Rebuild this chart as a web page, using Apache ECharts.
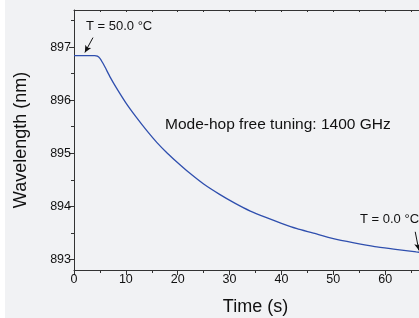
<!DOCTYPE html>
<html>
<head>
<meta charset="utf-8">
<script src="https://cdn.jsdelivr.net/npm/echarts@6/dist/echarts.min.js"></script>
<style>
  html, body { margin: 0; padding: 0; background: #f1f2f4; }
  #chart { width: 419px; height: 318px; }
</style>
</head>
<body>
<div id="chart"></div>
<script>
// time axis (s) and measured wavelength (nm)
const timeS = [0, 1, 2, 3, 4, 4.5, 5, 5.5, 6, 7, 8, 10, 12, 14, 16, 18, 20, 22, 25, 28, 31, 34, 37, 40, 43, 46, 50, 54, 58, 62, 66, 70];
const wavelengthNm = [896.84, 896.84, 896.84, 896.84, 896.84, 896.83, 896.79, 896.71, 896.62, 896.43, 896.26, 895.95, 895.68, 895.43, 895.20, 895.00, 894.82, 894.65, 894.42, 894.23, 894.06, 893.91, 893.79, 893.68, 893.58, 893.50, 893.39, 893.31, 893.24, 893.19, 893.14, 893.10];

const yMajorTicks = [893, 894, 895, 896, 897];
const yMinorTicks = [893.5, 894.5, 895.5, 896.5, 897.5];

// annotation arrows, in data coords: [tail, head]
const arrowHot = [[3.66, 897.18], [2.1, 896.9]];
const arrowCold = [[65.8, 893.52], [66.5, 893.17]];

const font = "'Liberation Sans', Arial, sans-serif";
const axisColor = "#333";
const txtColor = "#111";

const chart = echarts.init(document.getElementById("chart"), null, { renderer: "canvas" });

const option = {
  backgroundColor: "#f1f2f4",
  animation: false,
  textStyle: { fontFamily: font },
  grid: { left: 74, top: 10, right: -18, bottom: 48, outerBoundsMode: "none", containLabel: false },
  xAxis: [
    {
      type: "value",
      min: 0,
      max: 70,
      interval: 10,
      position: "bottom",
      name: "Time (s)",
      nameLocation: "middle",
      nameGap: 28,
      nameTextStyle: { fontSize: 18, color: txtColor, fontFamily: font },
      axisLine: { lineStyle: { color: axisColor, width: 1 } },
      axisTick: { inside: false, length: 5, lineStyle: { color: axisColor } },
      minorTick: { show: true, splitNumber: 2, length: 3, lineStyle: { color: axisColor } },
      axisLabel: { fontSize: 12.5, color: txtColor, margin: 3, fontFamily: font },
      splitLine: { show: false }
    },
    {
      type: "value",
      min: 0,
      max: 70,
      interval: 5,
      position: "top",
      axisLine: { lineStyle: { color: axisColor, width: 1 } },
      axisTick: { inside: true, length: 2, lineStyle: { color: axisColor } },
      axisLabel: { show: false },
      splitLine: { show: false }
    }
  ],
  yAxis: [
    {
      type: "value",
      min: 892.8,
      max: 897.7,
      position: "left",
      name: "Wavelength (nm)",
      nameLocation: "middle",
      nameGap: 44,
      nameTextStyle: { fontSize: 18, color: txtColor, fontFamily: font },
      axisLine: { show: true, lineStyle: { color: axisColor, width: 1 } },
      axisTick: { show: true, length: 5, customValues: yMajorTicks, lineStyle: { color: axisColor } },
      axisLabel: { fontSize: 12.5, color: txtColor, margin: 3, customValues: yMajorTicks, fontFamily: font },
      splitLine: { show: false }
    },
    {
      type: "value",
      min: 892.8,
      max: 897.7,
      position: "left",
      axisLine: { show: false },
      axisTick: { show: true, length: 3, customValues: yMinorTicks, lineStyle: { color: axisColor } },
      axisLabel: { show: false },
      splitLine: { show: false }
    }
  ],
  series: [
    {
      type: "line",
      xAxisIndex: 0,
      yAxisIndex: 0,
      data: timeS.map((t, i) => [t, wavelengthNm[i]]),
      showSymbol: false,
      smooth: 0.2,
      lineStyle: { color: "#2f4fae", width: 1.3 },
      markLine: {
        silent: true,
        symbol: ["none", "arrow"],
        symbolSize: [5, 7],
        label: { show: false },
        lineStyle: { color: "#111", width: 1, type: "solid" },
        data: [
          [{ coord: arrowHot[0] }, { coord: arrowHot[1] }],
          [{ coord: arrowCold[0] }, { coord: arrowCold[1] }]
        ]
      }
    }
  ],
  graphic: [
    { type: "rect", left: 0, top: 0, shape: { width: 5, height: 318 }, style: { fill: "#ffffff" }, z: -1 },
    { type: "text", left: 86, top: 20, style: { text: "T = 50.0 °C", font: "13px " + font, fill: txtColor } },
    { type: "text", left: 165, top: 117, style: { text: "Mode-hop free tuning: 1400 GHz", font: "15.5px " + font, fill: txtColor } },
    { type: "text", left: 360, top: 213, style: { text: "T = 0.0 °C", font: "13px " + font, fill: txtColor } }
  ]
};

chart.setOption(option);
</script>
</body>
</html>
